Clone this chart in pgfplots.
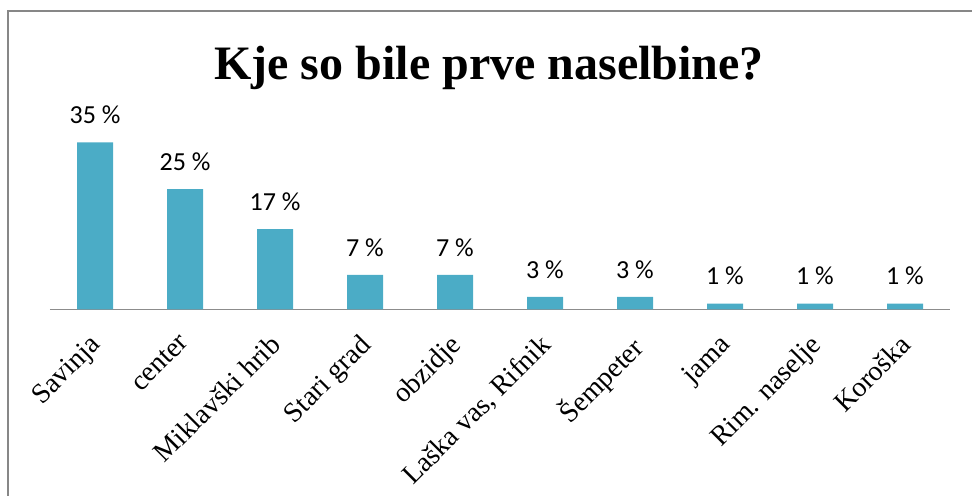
\documentclass[border=0pt]{standalone}
\usepackage{pgfplots}
\pgfplotsset{compat=1.18}
\usepackage{fontspec}
\setmainfont{Liberation Serif}
\newfontfamily\labfont{Carlito}
\definecolor{barc}{HTML}{4BACC6}
\definecolor{framec}{HTML}{878787}
\definecolor{axc}{HTML}{8C8C8C}
\begin{document}
\begin{tikzpicture}
\useasboundingbox (0,0) rectangle (729pt,372pt);
\draw[framec, line width=1pt] (6pt,-5pt) -- (6pt,363.75pt) -- (740pt,363.75pt);
\node[anchor=base, font=\fontsize{36}{40}\selectfont\bfseries] at (366.75pt,312pt) {Kje so bile prve naselbine?};
\begin{axis}[
  at={(37.5pt,140pt)}, anchor=south west,
  scale only axis, width=675pt, height=143.1pt,
  xmin=-0.5, xmax=9.5, ymin=0, ymax=40,
  axis x line*=bottom, axis y line=none,
  x axis line style={-, axc, line width=1pt},
  xtick=data,
  xticklabels={Savinja,center,Miklavški hrib,Stari grad,obzidje,{Laška vas, Rifnik},Šempeter,jama,Rim. naselje,Koroška},
  major tick length=0pt,
  xticklabel style={xshift=-5pt, yshift=-16pt, rotate=45, anchor=north east, font=\fontsize{21}{24}\selectfont, inner sep=1pt},
  ytick=\empty,
  clip=false,
  nodes near coords,
  point meta=explicit symbolic,
  every node near coord/.append style={anchor=base, yshift=14pt, font=\labfont\fontsize{19.5}{22}\selectfont, text=black},
]
\addplot[ybar, bar width=27pt, fill=barc, draw=none] table[meta=lab] {
x y lab
0 35 {35 \%}
1 25.2 {25 \%}
2 16.8 {17 \%}
3 7.2 {7 \%}
4 7.2 {7 \%}
5 2.6 {3 \%}
6 2.6 {3 \%}
7 1.2 {1 \%}
8 1.2 {1 \%}
9 1.2 {1 \%}
};
\end{axis}
\end{tikzpicture}
\end{document}
